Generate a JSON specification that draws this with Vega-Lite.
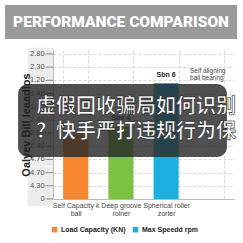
{
  "$schema": "https://vega.github.io/schema/vega-lite/v6.json",
  "width": 181,
  "height": 149,
  "autosize": "none",
  "padding": {"left": 53, "top": 50, "right": 9, "bottom": 44},
  "background": "white",
  "config": {"view": {"stroke": null}, "font": "Liberation Sans"},
  "datasets": {
    "bars": [
      {"item": "Self Capacity k|ball", "value": 4.9, "series": "Load Capacity (KN)", "note": ""},
      {"item": "Deep groove|rolner", "value": 5.5, "series": "Deep groove", "note": "Sbn 4"},
      {"item": "Spherical roller|zorter", "value": 8.8, "series": "Max Speedd rpm", "note": "Sbn 6"}
    ],
    "ylabels": [
      {"tick": 0, "label": "0"},
      {"tick": 1, "label": "4.30"},
      {"tick": 2, "label": "4.70"},
      {"tick": 3, "label": "4.76"},
      {"tick": 4, "label": "2.40"},
      {"tick": 5, "label": "2.60"},
      {"tick": 6, "label": "2.40"},
      {"tick": 7, "label": "1.40"},
      {"tick": 8, "label": "3.40"},
      {"tick": 9, "label": "1.20"},
      {"tick": 10, "label": "2.30"},
      {"tick": 11, "label": "2.80"}
    ],
    "one": [{"k": 1}]
  },
  "resolve": {"scale": {"x": "independent"}, "axis": {"x": "independent", "y": "independent"}},
  "layer": [
    {
      "data": {"name": "one"},
      "mark": {"type": "point", "opacity": 0},
      "encoding": {
        "x": {"datum": 0.5, "type": "quantitative", "scale": {"domain": [0, 1], "nice": false, "zero": false}, "axis": null},
        "y": {
          "datum": 5.65, "type": "quantitative",
          "scale": {"domain": [0, 11.3], "nice": false, "zero": false},
          "axis": {
            "orient": "left", "title": null, "values": [0, 1, 2, 3, 4, 5, 6, 7, 8, 9, 10, 11], "labels": false,
            "domain": true, "domainColor": "#bbb", "zindex": 0,
            "grid": true, "gridDash": [3, 2], "gridColor": "#d8d8d8",
            "ticks": true, "tickSize": 26, "tickWidth": 13.3, "tickColor": "#ececec", "tickCap": "butt"
          }
        }
      }
    },
    {
      "data": {"name": "bars"},
      "encoding": {
        "x": {
          "field": "item", "type": "nominal", "sort": null,
          "scale": {"domain": ["Self Capacity k|ball", "Deep groove|rolner", "Spherical roller|zorter", " "], "paddingInner": 0.447, "paddingOuter": 0.2235},
          "axis": {
            "title": null, "labelAngle": 0, "labelExpr": "split(datum.label, '|')",
            "labelFontSize": 7, "labelColor": "#444", "labelLineHeight": 8, "labelPadding": 2,
            "ticks": false, "grid": true, "tickBand": "extent", "gridDash": [3, 2], "gridColor": "#d8d8d8",
            "domainColor": "#bbb"
          }
        }
      },
      "layer": [
        {
          "mark": {"type": "bar"},
          "encoding": {
            "y": {
              "field": "value", "type": "quantitative",
              "axis": {
                "orient": "left", "zindex": 1,
                "title": "Oalyev Bill leaadlos", "titleFontSize": 11, "titleFontWeight": "bold", "titleColor": "#222", "titlePadding": 8,
                "values": [0, 1, 2, 3, 4, 5, 6, 7, 8, 9, 10, 11],
                "labelFontSize": 7.5, "labelOpacity": 0, "labelPadding": 1,
                "tickSize": 8, "tickOpacity": 0,
                "grid": false, "domain": false
              }
            },
            "color": {
              "field": "series", "type": "nominal",
              "scale": {"domain": ["Load Capacity (KN)", "Deep groove", "Max Speedd rpm"], "range": ["#F7882F", "#7CC242", "#1BB0E0"]},
              "legend": {
                "values": ["Load Capacity (KN)", "Max Speedd rpm"], "title": null,
                "orient": "none", "legendX": -2, "legendY": 176, "direction": "horizontal",
                "symbolType": "square", "symbolSize": 30, "symbolStrokeWidth": 0,
                "labelFontSize": 7, "labelFontWeight": "bold", "labelColor": "#222", "labelOffset": 3, "columnPadding": 6
              }
            }
          }
        },
        {
          "mark": {"type": "text", "dy": -8, "fontWeight": "bold", "fontSize": 7, "color": "#222"},
          "encoding": {
            "y": {"field": "value", "type": "quantitative"},
            "text": {"field": "note"}
          }
        }
      ]
    },
    {
      "data": {"name": "ylabels"},
      "layer": [
        {
          "mark": {"type": "text", "align": "right", "baseline": "middle", "fontSize": 7.5, "color": "#555", "clip": false},
          "encoding": {
            "x": {"datum": -0.046, "type": "quantitative", "scale": {"domain": [0, 1], "nice": false, "zero": false}, "axis": null},
            "y": {"field": "tick", "type": "quantitative", "axis": null},
            "text": {"field": "label"}
          }
        },
        {
          "mark": {"type": "rule", "color": "#888", "strokeWidth": 1, "clip": false},
          "encoding": {
            "x": {"datum": -0.041, "type": "quantitative"},
            "x2": {"datum": 0},
            "y": {"field": "tick", "type": "quantitative"}
          }
        }
      ]
    },
    {
      "data": {"name": "one"},
      "layer": [
        {
          "mark": {"type": "text", "align": "left", "baseline": "middle", "fontSize": 6.5, "color": "#444", "lineBreak": "|", "lineHeight": 7},
          "encoding": {
            "x": {"datum": 0.757, "type": "quantitative", "scale": {"domain": [0, 1], "nice": false, "zero": false}, "axis": null},
            "y": {"datum": 9.7, "type": "quantitative", "axis": null},
            "text": {"datum": "Self aligning|ball bearing"}
          }
        },
        {
          "mark": {"type": "rect", "cornerRadius": 10, "color": "#2a2a2a", "opacity": 0.82, "clip": false},
          "encoding": {
            "x": {"datum": -0.193, "type": "quantitative"},
            "x2": {"datum": 0.961},
            "y": {"datum": 3.19, "type": "quantitative"},
            "y2": {"datum": 8.73}
          }
        },
        {
          "mark": {"type": "text", "font": "Noto Sans CJK SC", "fontSize": 20, "fontWeight": "bold", "color": "white", "align": "left", "baseline": "middle", "stroke": "#222", "strokeWidth": 0.6, "clip": false},
          "encoding": {
            "x": {"datum": -0.094, "type": "quantitative"},
            "y": {"datum": 6.98, "type": "quantitative"},
            "text": {"datum": "虚假回收骗局如何识别"}
          }
        },
        {
          "mark": {"type": "text", "font": "Noto Sans CJK SC", "fontSize": 20, "fontWeight": "bold", "color": "white", "align": "left", "baseline": "middle", "stroke": "#222", "strokeWidth": 0.6, "clip": false},
          "encoding": {
            "x": {"datum": -0.094, "type": "quantitative"},
            "y": {"datum": 5.08, "type": "quantitative"},
            "text": {"datum": "？快手严打违规行为保"}
          }
        },
        {
          "mark": {"type": "rect", "color": "#9a9a9a", "clip": false},
          "encoding": {
            "x": {"datum": -0.265, "type": "quantitative"},
            "x2": {"datum": 1.017},
            "y": {"datum": 12.14, "type": "quantitative"},
            "y2": {"datum": 14.72}
          }
        },
        {
          "mark": {"type": "text", "font": "Roboto", "fontSize": 15.5, "fontWeight": 900, "color": "white", "align": "center", "baseline": "middle", "clip": false},
          "encoding": {
            "x": {"datum": 0.376, "type": "quantitative"},
            "y": {"datum": 13.43, "type": "quantitative"},
            "text": {"datum": "PERFORMANCE COMPARISON"}
          }
        }
      ]
    }
  ]
}
